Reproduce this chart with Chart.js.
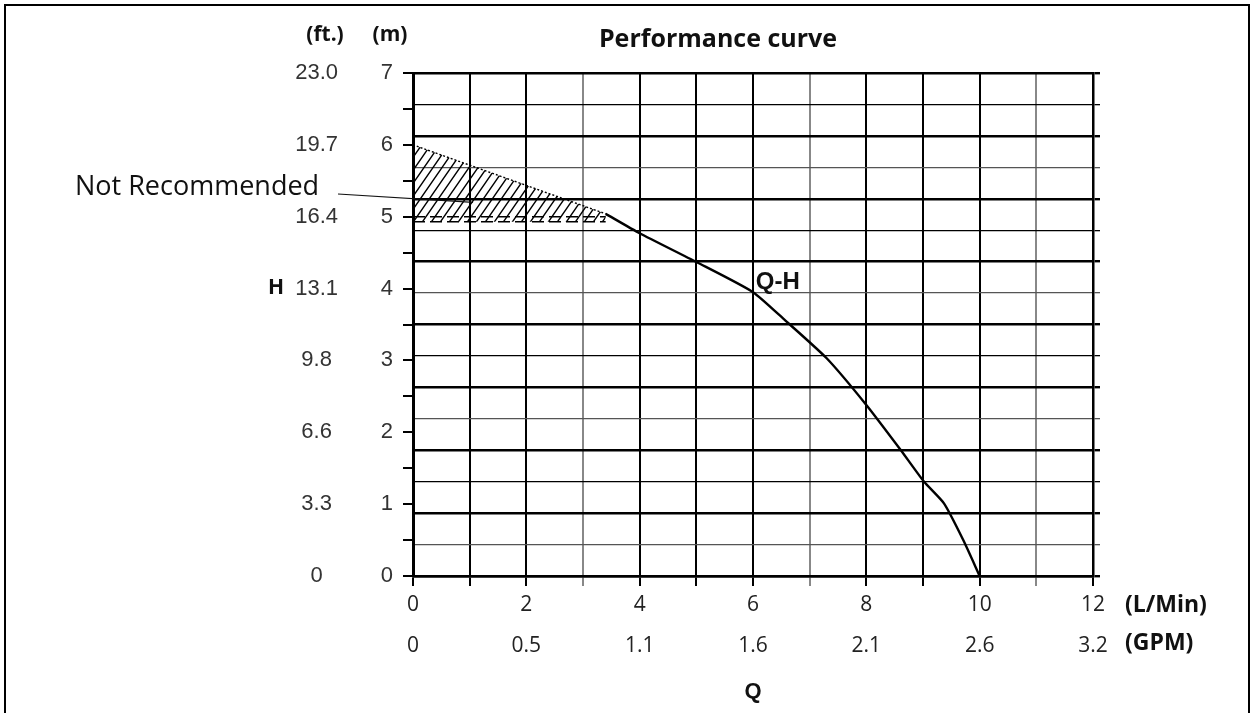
<!DOCTYPE html>
<html>
<head>
<meta charset="utf-8">
<script src="https://cdn.jsdelivr.net/npm/chart.js@4.4.1/dist/chart.umd.min.js"></script>
<style>
  html, body { margin: 0; padding: 0; background: #fff; }
  #wrap { position: relative; width: 1257px; height: 713px; overflow: hidden; }
  #frame { position: absolute; left: 4px; top: 4px; width: 1246px; height: 730px; border: 2px solid #000; box-sizing: border-box; pointer-events: none; }
</style>
</head>
<body>
<div id="wrap">
  <canvas id="chart" width="1257" height="713"></canvas>
  <div id="frame"></div>
</div>
<script>
// données
const chartTitle = "Performance curve";
const flowLabels = ["0", "2", "4", "6", "8", "10", "12"];
const gpmLabels = ["0", "0.5", "1.1", "1.6", "2.1", "2.6", "3.2"];
const headLabelsM = ["0", "1", "2", "3", "4", "5", "6", "7"];
const headLabelsFt = ["0", "3.3", "6.6", "9.8", "13.1", "16.4", "19.7", "23.0"];

// courbe Q-H (L/Min, m)
const curveQ = [3.4, 4, 5, 6, 6.55, 7.3, 8, 8.6, 9.02, 9.37, 9.71, 10];
const curveH = [5.04, 4.77, 4.37, 3.95, 3.57, 3.03, 2.38, 1.76, 1.31, 1.01, 0.5, 0];

// zone "Not Recommended"
const nrQ = [0, 3.4];
const nrTop = [6.0, 5.04];
const nrLine1 = [5.0, 5.0];
const nrLine2 = [4.93, 4.93];

// lignes verticales grises
const greyFlowLines = [3, 7, 11];

const toPoints = (xs, ys) => xs.map((v, i) => ({ x: v, y: ys[i] }));

// motif hachuré
function hatchPattern() {
  const c = document.createElement("canvas");
  c.width = 9;
  c.height = 13;
  const g = c.getContext("2d");
  g.strokeStyle = "#000";
  g.lineWidth = 1.4;
  g.beginPath();
  g.moveTo(-1, 14.44); g.lineTo(10, -1.44);
  g.moveTo(-10, 14.44); g.lineTo(1, -1.44);
  g.moveTo(8, 14.44); g.lineTo(19, -1.44);
  g.stroke();
  return g.createPattern(c, "repeat");
}

// textes posés à la main
const annotations = {
  id: "annotations",
  afterDraw(chart) {
    const { ctx, scales: { x, y } } = chart;
    ctx.save();
    ctx.fillStyle = "#111";
    ctx.textBaseline = "middle";

    ctx.textAlign = "center";
    ctx.font = 'bold 25px "Open Sans"';
    ctx.fillText(chartTitle, 718, 40);

    ctx.font = 'bold 21px "Open Sans"';
    ctx.fillText("(ft.)", 325, 35);
    ctx.fillText("(m)", 390, 35);
    ctx.fillText("H", 276, 288);

    ctx.textAlign = "left";
    ctx.font = 'bold 23px "Open Sans"';
    ctx.fillText("(L/Min)", 1125, 605);
    ctx.fillText("(GPM)", 1125, 643);

    ctx.font = 'bold 24px "Liberation Sans"';
    ctx.fillText("Q-H", x.getPixelForValue(6.05), y.getPixelForValue(4.09));

    ctx.font = '27px "Open Sans"';
    ctx.fillText("Not Recommended", 75, 187);

    ctx.strokeStyle = "#111";
    ctx.lineWidth = 1.2;
    ctx.beginPath();
    ctx.moveTo(338, 194);
    ctx.lineTo(x.getPixelForValue(1.06), y.getPixelForValue(5.2));
    ctx.stroke();
    ctx.restore();
  },
};

const tickFont = { family: '"Liberation Sans"', size: 22 };
const flowFont = { family: '"Open Sans"', size: 21 };

new Chart(document.getElementById("chart"), {
  type: "line",
  data: {
    datasets: [
      {
        label: "Q-H",
        data: toPoints(curveQ, curveH),
        borderColor: "#000",
        borderWidth: 2.4,
        pointRadius: 0,
        tension: 0.2,
        fill: false,
      },
      {
        label: "limite",
        data: toPoints(nrQ, nrTop),
        borderColor: "#000",
        borderWidth: 1.4,
        borderDash: [2, 2],
        pointRadius: 0,
        fill: { target: 3 },
        backgroundColor: hatchPattern(),
      },
      {
        label: "bas1",
        data: toPoints(nrQ, nrLine1),
        borderColor: "#000",
        borderWidth: 1.5,
        borderDash: [12, 5],
        pointRadius: 0,
        fill: false,
      },
      {
        label: "bas2",
        data: toPoints(nrQ, nrLine2),
        borderColor: "#000",
        borderWidth: 1.5,
        borderDash: [12, 5],
        pointRadius: 0,
        fill: false,
      },
    ],
  },
  options: {
    responsive: false,
    animation: false,
    devicePixelRatio: 1,
    layout: { padding: { top: 73, left: 290, right: 157, bottom: 8 } },
    plugins: {
      legend: { display: false },
      tooltip: { enabled: false },
      title: { display: false },
    },
    scales: {
      x: {
        type: "linear",
        position: "bottom",
        min: 0,
        max: 12,
        afterFit: (s) => { s.height = 46; },
        ticks: {
          stepSize: 1,
          autoSkip: false,
          maxRotation: 0,
          padding: 6,
          color: "#222",
          font: flowFont,
          callback: (v) => (v % 2 === 0 ? flowLabels[v / 2] : ""),
        },
        grid: {
          color: (c) => (greyFlowLines.includes(c.tick && c.tick.value) ? "#888" : "#000"),
          lineWidth: 2,
          tickLength: 10,
        },
        border: { color: "#000", width: 2.5 },
      },
      x2: {
        type: "linear",
        position: "bottom",
        min: 0,
        max: 12,
        afterFit: (s) => { s.height = 83; },
        ticks: {
          stepSize: 2,
          autoSkip: false,
          maxRotation: 0,
          padding: 3,
          color: "#222",
          font: flowFont,
          callback: (v, i) => gpmLabels[i],
        },
        grid: { display: false },
        border: { display: false },
        title: {
          display: true,
          text: "Q",
          color: "#111",
          font: { family: '"Liberation Sans"', size: 22, weight: "bold" },
          padding: { top: 12, bottom: 0 },
        },
      },
      y: {
        type: "linear",
        position: "left",
        min: 0,
        max: 7,
        afterFit: (s) => { s.width = 63; },
        ticks: {
          stepSize: 0.5,
          autoSkip: false,
          padding: 10,
          color: "#333",
          font: tickFont,
          callback: (v) => (Number.isInteger(v) ? headLabelsM[v] : ""),
        },
        grid: { drawOnChartArea: false, color: "#000", lineWidth: 2, tickLength: 10 },
        border: { color: "#000", width: 3 },
      },
      yft: {
        type: "linear",
        position: "left",
        min: 0,
        max: 7,
        afterFit: (s) => { s.width = 60; },
        ticks: {
          stepSize: 1,
          autoSkip: false,
          padding: 4,
          crossAlign: "center",
          color: "#333",
          font: tickFont,
          callback: (v, i) => headLabelsFt[i],
        },
        grid: { display: false },
        border: { display: false },
      },
      yg: {
        type: "linear",
        position: "right",
        min: 0,
        max: 16,
        afterFit: (s) => { s.width = 7; },
        ticks: { stepSize: 1, display: false },
        grid: {
          color: (c) => (c.index % 4 === 1 ? "#555" : "#000"),
          lineWidth: (c) => (c.index % 2 === 0 ? 2.4 : 1.3),
          tickLength: 7,
        },
        border: { color: "#000", width: 2.5 },
      },
    },
  },
  plugins: [annotations],
});
</script>
</body>
</html>
